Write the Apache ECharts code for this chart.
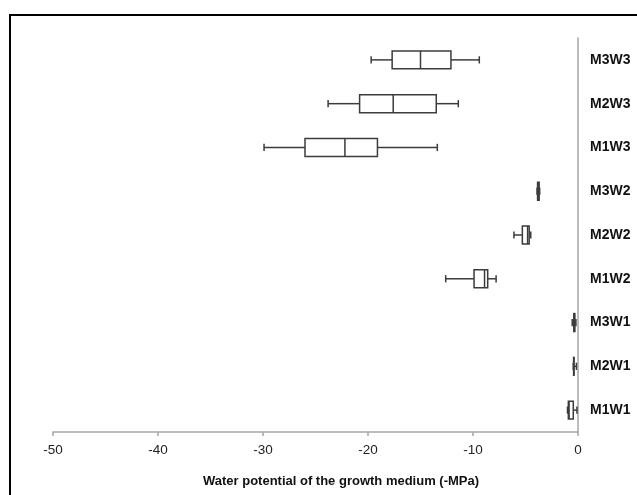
<!DOCTYPE html>
<html>
<head>
<meta charset="utf-8">
<script src="https://cdn.jsdelivr.net/npm/echarts@6/dist/echarts.min.js"></script>
<style>
html,body{margin:0;padding:0;background:#fff;}
#chart{width:637px;height:495px;}
</style>
</head>
<body>
<div id="chart"></div>
<script>
// Categories, bottom to top
var categories = ['M1W1','M2W1','M3W1','M1W2','M2W2','M3W2','M1W3','M2W3','M3W3'];
// Box plot statistics (-MPa shown as negative values)
var whiskerLow  = [-1.0, -0.45, -0.55, -12.6, -6.1, -3.9, -29.9, -23.8, -19.7];
var quartile1   = [-0.92, -0.42, -0.4, -9.9, -5.3, -3.85, -26.0, -20.8, -17.7];
var medianVals  = [-0.85, -0.4, -0.35, -8.9, -4.8, -3.8, -22.2, -17.6, -15.0];
var quartile3   = [-0.45, -0.38, -0.3, -8.6, -4.65, -3.7, -19.1, -13.5, -12.1];
var whiskerHigh = [-0.1, -0.15, -0.2, -7.8, -4.5, -3.65, -13.4, -11.4, -9.4];
var xTicks = [-50, -40, -30, -20, -10, 0];
var xTitle = 'Water potential of the growth medium (-MPa)';

var data = categories.map(function (c, i) {
  return [i, whiskerLow[i], quartile1[i], medianVals[i], quartile3[i], whiskerHigh[i]];
});

var LINE = '#3c3c3c';
var LW = 1.5;

function renderItem(params, api) {
  var cat = api.value(0);
  var pLo = api.coord([api.value(1), cat]);
  var pQ1 = api.coord([api.value(2), cat]);
  var pMed = api.coord([api.value(3), cat]);
  var pQ3 = api.coord([api.value(4), cat]);
  var pHi = api.coord([api.value(5), cat]);
  var band = api.size([0, 1])[1];
  var bh = band * 0.41 / 2;
  var ch = band * 0.165 / 2;
  var y = pMed[1];
  var st = { stroke: LINE, lineWidth: LW, fill: null };
  return {
    type: 'group',
    children: [
      { type: 'line', shape: { x1: pLo[0], y1: y, x2: pQ1[0], y2: y }, style: st },
      { type: 'line', shape: { x1: pQ3[0], y1: y, x2: pHi[0], y2: y }, style: st },
      { type: 'line', shape: { x1: pLo[0], y1: y - ch, x2: pLo[0], y2: y + ch }, style: st },
      { type: 'line', shape: { x1: pHi[0], y1: y - ch, x2: pHi[0], y2: y + ch }, style: st },
      { type: 'rect', shape: { x: pQ1[0], y: y - bh, width: pQ3[0] - pQ1[0], height: bh * 2 },
        style: { stroke: LINE, lineWidth: LW, fill: '#ffffff' } },
      { type: 'line', shape: { x1: pMed[0], y1: y - bh, x2: pMed[0], y2: y + bh }, style: st }
    ]
  };
}

var chart = echarts.init(document.getElementById('chart'), null, { renderer: 'canvas' });
chart.setOption({
  backgroundColor: '#ffffff',
  animation: false,
  grid: { left: 53, right: 59, top: 38, bottom: 63 },
  xAxis: {
    type: 'value',
    min: xTicks[0],
    max: xTicks[xTicks.length - 1],
    interval: 10,
    splitLine: { show: false },
    axisLine: { show: true, lineStyle: { color: '#a6a6a6', width: 1.5 } },
    axisTick: { show: true, length: 4, lineStyle: { color: '#a6a6a6', width: 1.5 } },
    axisLabel: {
      margin: 11,
      color: '#222',
      fontFamily: 'Liberation Sans, Arial, sans-serif',
      fontSize: 13.5
    }
  },
  yAxis: {
    type: 'category',
    position: 'right',
    data: categories,
    axisLine: { show: true, onZero: false, lineStyle: { color: '#a6a6a6', width: 1.5 } },
    axisTick: { show: false },
    splitLine: { show: false },
    axisLabel: {
      margin: 12,
      color: '#111',
      fontWeight: 'bold',
      fontFamily: 'Liberation Sans, Arial, sans-serif',
      fontSize: 14,
      padding: [3, 0, 0, 0]
    }
  },
  graphic: [
    { type: 'polyline', shape: { points: [[10, 495], [10, 15], [637, 15]] },
      style: { stroke: '#000', lineWidth: 2, fill: null }, silent: true },
    { type: 'text', x: 341, y: 481,
      style: { text: xTitle, textAlign: 'center', textVerticalAlign: 'middle',
        font: 'bold 13px "Liberation Sans", Arial, sans-serif', fill: '#111' } }
  ],
  series: [{
    type: 'custom',
    renderItem: renderItem,
    encode: { x: [1, 2, 3, 4, 5], y: 0 },
    data: data
  }]
});
</script>
</body>
</html>
